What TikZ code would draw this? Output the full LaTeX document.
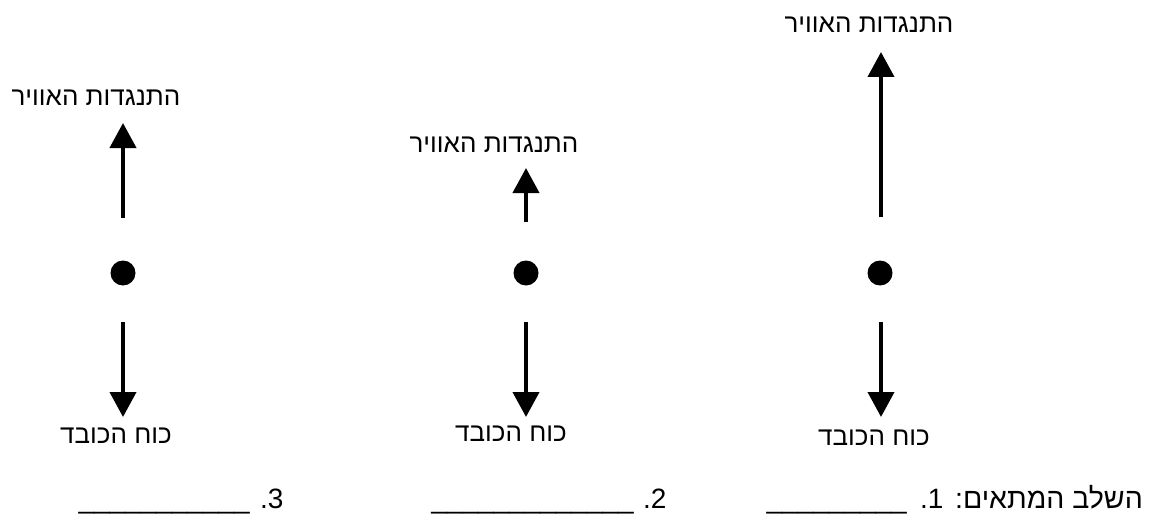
\documentclass[tikz,border=0pt]{standalone}
\usepackage{fontspec}
\setmainfont{Liberation Sans}
\newfontfamily\hebfont[Script=Hebrew]{Liberation Sans}
\TeXXeTstate=1
\usetikzlibrary{arrows.meta}
\tikzset{
  lbl/.style={font=\hebfont\fontsize{26}{30}\selectfont, inner sep=0pt},
  bottomheb/.style={font=\hebfont\fontsize{28.5}{33}\selectfont, inner sep=0pt},
  bottomnum/.style={font=\fontsize{28}{32}\selectfont, inner sep=0pt},
  force/.style={line width=4pt, -{Triangle[length=25pt,width=26pt]}},
  body/.style={circle, fill=black, inner sep=0pt, minimum size=25pt},
}
\begin{document}
\begin{tikzpicture}[x=1pt,y=-1pt]
\useasboundingbox (0,0) rectangle (1156,516);

% ---- column 1 (left)
\node[body] (d1) at (123,273) {};
\coordinate (u1s) at (123,218);
\coordinate (u1t) at (123,123);
\coordinate (g1s) at (123,322);
\coordinate (g1t) at (123,417);
\draw[force] (u1s) -- (u1t);
\draw[force] (g1s) -- (g1t);
\node[lbl] (ul1) at (96,98) {\beginR התנגדות האוויר\endR};
\node[lbl] (gl1) at (116,436) {\beginR כוח הכובד\endR};

% ---- column 2 (middle)
\node[body] (d2) at (526,273) {};
\coordinate (u2s) at (526,222);
\coordinate (u2t) at (526,168);
\coordinate (g2s) at (526,322);
\coordinate (g2t) at (526,417);
\draw[force] (u2s) -- (u2t);
\draw[force] (g2s) -- (g2t);
\node[lbl] (ul2) at (494,145) {\beginR התנגדות האוויר\endR};
\node[lbl] (gl2) at (511,434) {\beginR כוח הכובד\endR};

% ---- column 3 (right)
\node[body] (d3) at (880,273) {};
\coordinate (u3s) at (881,217);
\coordinate (u3t) at (881,52);
\coordinate (g3s) at (881,322);
\coordinate (g3t) at (881,417);
\draw[force] (u3s) -- (u3t);
\draw[force] (g3s) -- (g3t);
\node[lbl] (ul3) at (869,25) {\beginR התנגדות האוויר\endR};
\node[lbl] (gl3) at (874,438) {\beginR כוח הכובד\endR};

% ---- bottom line
\node[bottomheb, anchor=base east] (q) at (1143,508) {\beginR השלב המתאים:\endR};
\node[bottomnum, anchor=base west] (n1) at (920,508) {.1};
\node[bottomnum, anchor=base east] (b1) at (907,508) {\_\_\_\_\_\_\_\_\_};
\node[bottomnum, anchor=base west] (n2) at (643,508) {.2};
\node[bottomnum, anchor=base east] (b2) at (634,508) {\_\_\_\_\_\_\_\_\_\_\_\_\_};
\node[bottomnum, anchor=base west] (n3) at (260,508) {.3};
\node[bottomnum, anchor=base east] (b3) at (250,508) {\_\_\_\_\_\_\_\_\_\_\_};
\end{tikzpicture}
\end{document}
